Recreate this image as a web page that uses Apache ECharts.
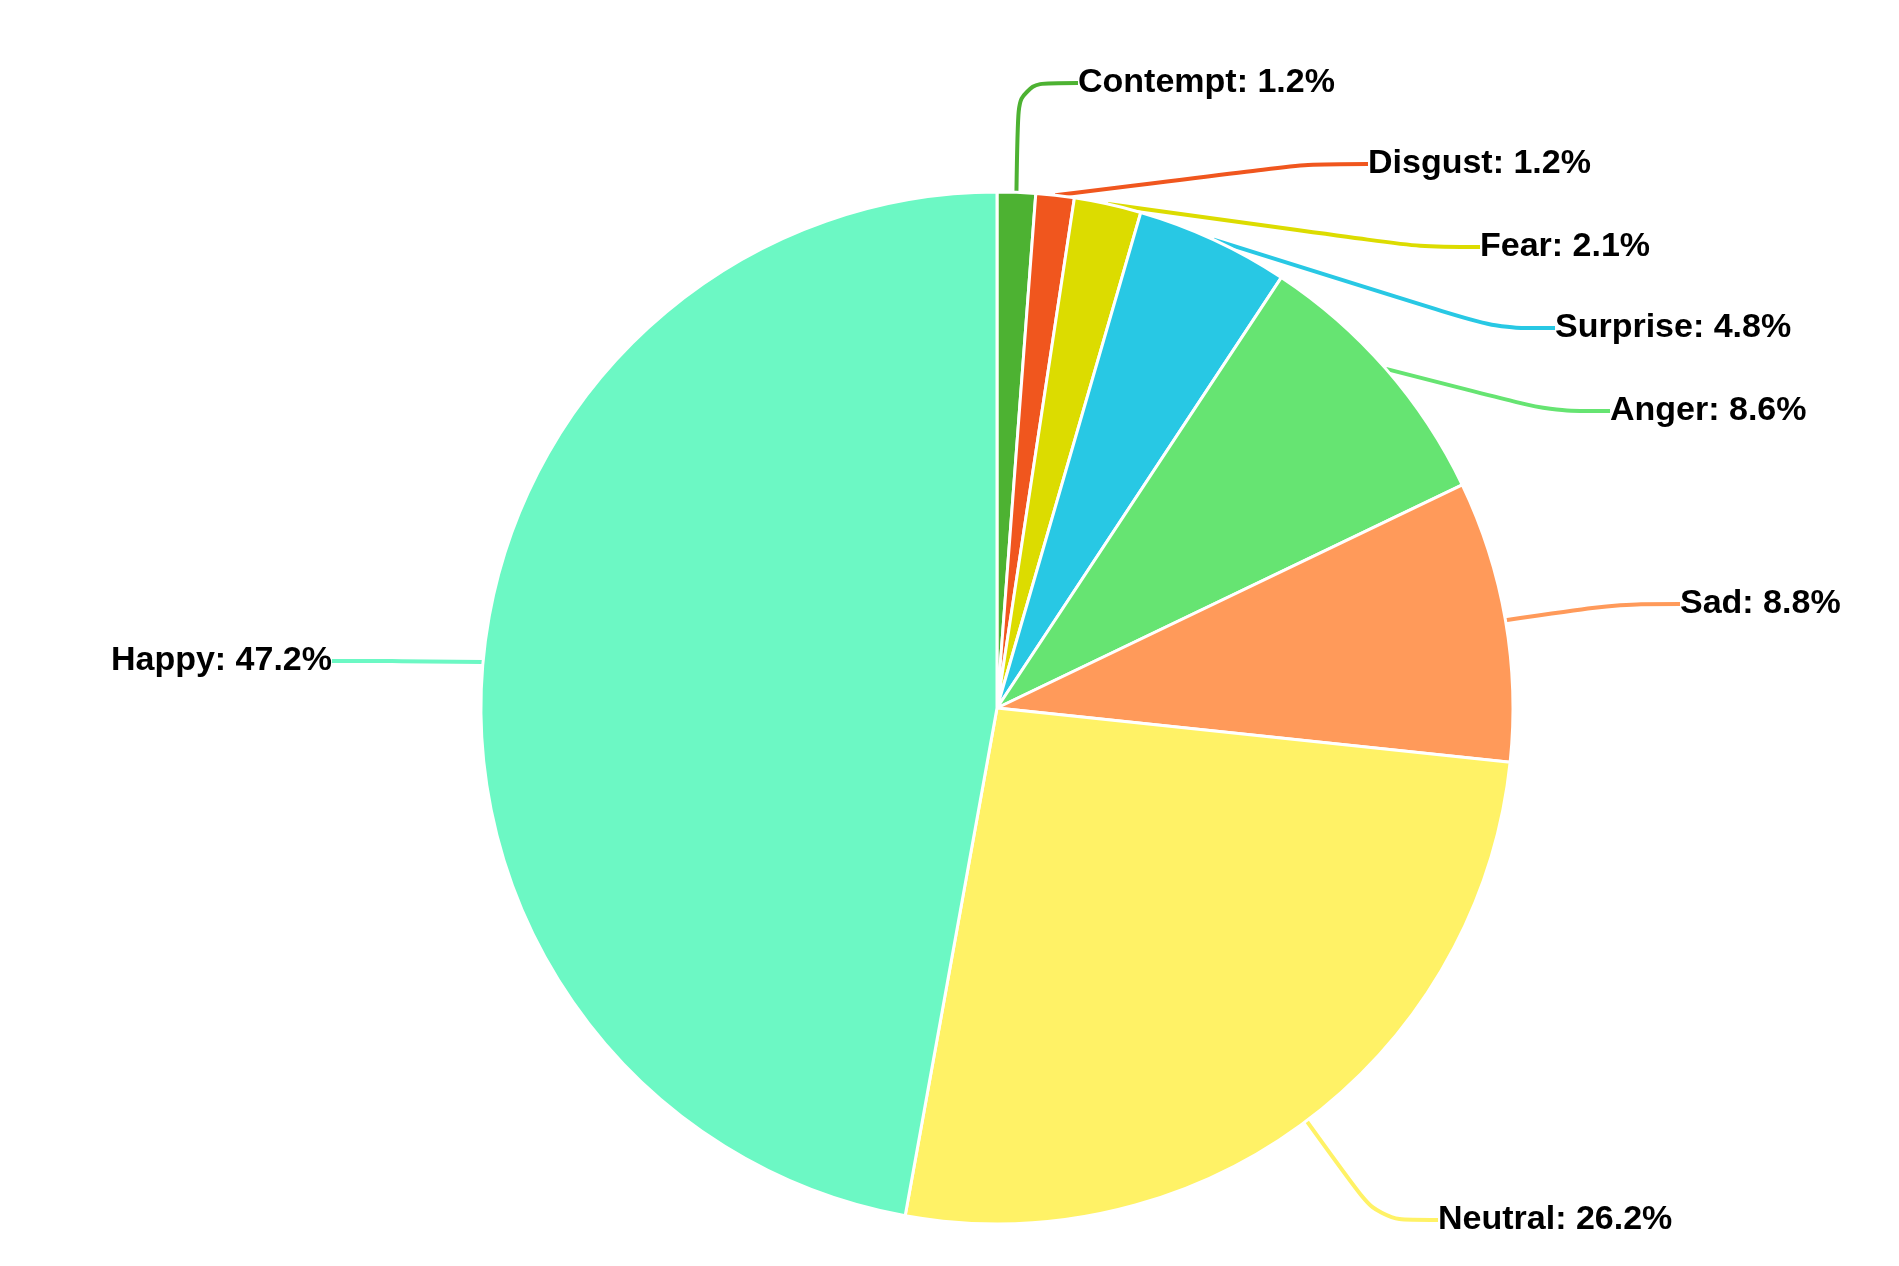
<!DOCTYPE html>
<html>
<head>
<meta charset="utf-8">
<script src="https://cdn.jsdelivr.net/npm/echarts@6/dist/echarts.min.js"></script>
<style>html,body{margin:0;background:#fff}</style>
</head>
<body>
<div id="main" style="width:1899px;height:1266px;"></div>
<script>
var names = ['Contempt', 'Disgust', 'Fear', 'Surprise', 'Anger', 'Sad', 'Neutral', 'Happy'];
var values = [1.2, 1.2, 2.1, 4.8, 8.6, 8.8, 26.2, 47.2];
var colors = ['#4db232', '#f0561e', '#dcdc00', '#28c8e4', '#66e472', '#ff9a5a', '#fff266', '#6cf8c4'];
// label anchor spots (left edge, or right edge for Happy)
var labelX = [1078, 1368, 1480, 1555, 1610, 1680, 1438, 332];
var labelY = [83, 164, 247, 328, 411, 604, 1220, 661];

var chart = echarts.init(document.getElementById('main'));
chart.setOption({
    series: [{
        type: 'pie',
        center: [997, 708],
        radius: 516,
        startAngle: 90,
        clockwise: true,
        data: names.map(function (n, i) {
            return { name: n, value: values[i], itemStyle: { color: colors[i] } };
        }),
        itemStyle: { borderColor: '#fff', borderWidth: 3 },
        label: {
            formatter: function (p) { return p.name + ': ' + p.value + '%'; },
            fontFamily: 'Liberation Sans',
            fontWeight: 'bold',
            fontSize: 34,
            color: '#000'
        },
        labelLine: { length: 40, length2: 60, smooth: 0.3, lineStyle: { width: 4 } },
        labelLayout: function (p) {
            var i = p.dataIndex;
            return {
                x: labelX[i],
                y: labelY[i],
                align: i === 7 ? 'right' : 'left',
                verticalAlign: 'middle',
                hideOverlap: false
            };
        }
    }]
});
</script>
</body>
</html>
